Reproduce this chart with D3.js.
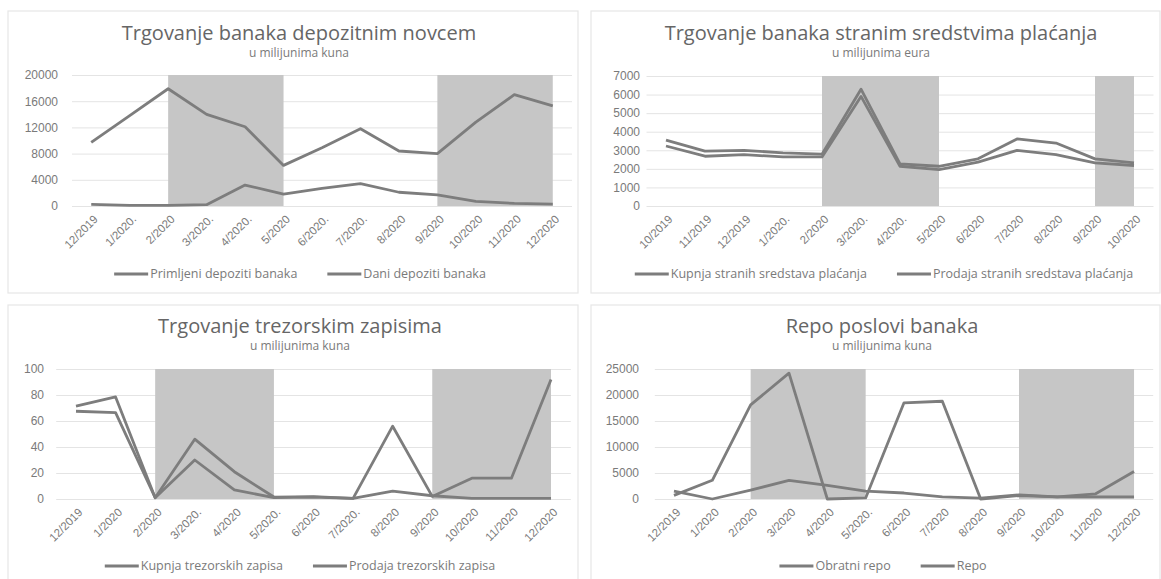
<!DOCTYPE html>
<html>
<head>
<meta charset="utf-8">
<script src="https://cdn.jsdelivr.net/npm/d3@7"></script>
<style>
  html, body { margin: 0; padding: 0; background: #ffffff; }
  svg { display: block; font-family: "Open Sans", "DejaVu Sans", sans-serif; }
</style>
</head>
<body>
<svg id="chart" width="1161" height="579"></svg>
<script>
// ---- Data ----------------------------------------------------------------
// Trgovanje banaka depozitnim novcem (u milijunima kuna)
const depoMonths = ["12/2019", "1/2020.", "2/2020", "3/2020.", "4/2020.", "5/2020", "6/2020.", "7/2020.", "8/2020", "9/2020", "10/2020", "11/2020", "12/2020"];
const depoPrimljeni = [9700, 13800, 17900, 14000, 12100, 6200, 8900, 11800, 8400, 8000, 12800, 17000, 15300];
const depoDani = [250, 100, 100, 200, 3200, 1800, 2700, 3400, 2100, 1700, 700, 400, 300];
const depoTicks = [0, 4000, 8000, 12000, 16000, 20000];
const depoShade = [[2, 5], [9, 12]];

// Trgovanje banaka stranim sredstvima plaćanja (u milijunima eura)
const fxMonths = ["10/2019", "11/2019", "12/2019", "1/2020.", "2/2020", "3/2020.", "4/2020.", "5/2020", "6/2020", "7/2020", "8/2020", "9/2020", "10/2020"];
const fxKupnja = [3550, 2950, 3000, 2860, 2790, 6290, 2270, 2140, 2540, 3610, 3390, 2540, 2320];
const fxProdaja = [3230, 2680, 2770, 2640, 2640, 5900, 2140, 1960, 2360, 3000, 2770, 2320, 2180];
const fxTicks = [0, 1000, 2000, 3000, 4000, 5000, 6000, 7000];
const fxShade = [[4, 7], [11, 12]];

// Trgovanje trezorskim zapisima (u milijunima kuna)
const tzMonths = ["12/2019", "1/2020", "2/2020", "3/2020.", "4/2020", "5/2020.", "6/2020", "7/2020.", "8/2020", "9/2020", "10/2020", "11/2020", "12/2020"];
const tzKupnja = [71.5, 78.5, 1, 46, 21, 1.5, 1.8, 0.5, 56, 2, 16, 16, 92];
const tzProdaja = [67.5, 66.5, 1, 30, 7, 1, 1.5, 0.5, 6, 2.5, 0.5, 0.5, 0.5];
const tzTicks = [0, 20, 40, 60, 80, 100];
const tzShade = [[2, 5], [9, 12]];

// Repo poslovi banaka (u milijunima kuna)
const repoMonths = ["12/2019", "1/2020", "2/2020", "3/2020", "4/2020", "5/2020.", "6/2020", "7/2020", "8/2020", "9/2020", "10/2020", "11/2020", "12/2020"];
const repoObratni = [700, 3600, 18100, 24200, 0, 200, 18500, 18800, 0, 650, 400, 1000, 5300];
const repoRepo = [1500, 0, 1700, 3600, 2600, 1500, 1150, 400, 150, 800, 400, 400, 400];
const repoTicks = [0, 5000, 10000, 15000, 20000, 25000];
const repoShade = [[2, 5], [9, 12]];

// ---- Styling -------------------------------------------------------------
const LINE = "#7d7d7d";
const SHADE = "#c6c6c6";
const GRID = "#e4e4e4";
const TEXT = "#7a7a7a";
const TITLE = "#666666";
const FRAME = "#e6e6e6";

const svg = d3.select("#chart");

function drawPanel(cfg) {
  const g = svg.append("g");

  // chart area frame
  g.append("rect")
    .attr("x", cfg.frame[0]).attr("y", cfg.frame[1])
    .attr("width", cfg.frame[2] - cfg.frame[0]).attr("height", cfg.frame[3] - cfg.frame[1])
    .attr("fill", "none").attr("stroke", FRAME).attr("stroke-width", 1.2);

  const x = d3.scalePoint().domain(cfg.months).range([cfg.plot.left, cfg.plot.right]).padding(0.5);
  const y = d3.scaleLinear().domain([0, d3.max(cfg.ticks)]).range([cfg.plot.bottom, cfg.plot.top]);

  // shaded periods
  g.selectAll("rect.shade").data(cfg.shade).join("rect")
    .attr("class", "shade")
    .attr("x", d => x(cfg.months[d[0]]))
    .attr("width", d => x(cfg.months[d[1]]) - x(cfg.months[d[0]]))
    .attr("y", y(d3.max(cfg.ticks)))
    .attr("height", y(0) - y(d3.max(cfg.ticks)))
    .attr("fill", SHADE);

  // horizontal gridlines + value labels
  const yAxis = d3.axisLeft(y).tickValues(cfg.ticks).tickSize(-(cfg.plot.right - cfg.plot.left)).tickPadding(12).tickFormat(d3.format("d"));
  const ya = g.append("g").attr("transform", `translate(${cfg.plot.left},0)`).call(yAxis);
  ya.select(".domain").remove();
  ya.selectAll(".tick line").attr("stroke", GRID).attr("stroke-width", 1);
  ya.selectAll(".tick text").attr("fill", TEXT).attr("font-size", 12).attr("x", cfg.labelRight - cfg.plot.left);
  ya.lower();

  // category labels
  const xAxis = d3.axisBottom(x).tickSize(0).tickPadding(0);
  const xa = g.append("g").attr("transform", `translate(0,${cfg.plot.bottom})`).call(xAxis);
  xa.select(".domain").remove();
  xa.selectAll(".tick text")
    .attr("fill", TEXT).attr("font-size", 11.5)
    .attr("text-anchor", "end")
    .attr("dy", "0.35em")
    .attr("transform", "translate(4,11) rotate(-45)")
    .attr("y", 0).attr("x", 0);

  // series lines
  const line = d3.line().x((d, i) => x(cfg.months[i])).y(d => y(d));
  g.selectAll("path.series").data(cfg.series).join("path")
    .attr("class", "series")
    .attr("d", d => line(d.values))
    .attr("fill", "none")
    .attr("stroke", LINE)
    .attr("stroke-width", 2.8)
    .attr("stroke-linejoin", "round");

  // titles
  g.append("text").attr("x", cfg.titleX).attr("y", cfg.titleY)
    .attr("text-anchor", "middle").attr("fill", TITLE)
    .attr("font-size", cfg.titleSize).text(cfg.title);
  g.append("text").attr("x", cfg.titleX).attr("y", cfg.subY)
    .attr("text-anchor", "middle").attr("fill", TEXT)
    .attr("font-size", 12).text(cfg.subtitle);

  // legend, centered under the plot
  const lg = g.append("g");
  let cursor = 0;
  const gap = 30;
  cfg.series.forEach((s, i) => {
    const item = lg.append("g").attr("transform", `translate(${cursor},0)`);
    item.append("line").attr("x1", 0).attr("x2", 34).attr("y1", 0).attr("y2", 0)
      .attr("stroke", LINE).attr("stroke-width", 2.8);
    const t = item.append("text").attr("x", 36).attr("y", 0).attr("dy", "0.35em")
      .attr("fill", TEXT).attr("font-size", 12.5).text(s.name);
    cursor += 36 + t.node().getComputedTextLength() + gap;
  });
  const total = cursor - gap;
  lg.attr("transform", `translate(${cfg.legendX - total / 2},${cfg.legendY})`);
}

drawPanel({
  frame: [8, 11, 578, 293],
  title: "Trgovanje banaka depozitnim novcem",
  subtitle: "u milijunima kuna",
  titleX: 299, titleY: 40, subY: 57, titleSize: 20,
  plot: { left: 72, right: 572, top: 75, bottom: 206 },
  labelRight: 58,
  months: depoMonths, ticks: depoTicks, shade: depoShade,
  series: [
    { name: "Primljeni depoziti banaka", values: depoPrimljeni },
    { name: "Dani depoziti banaka", values: depoDani }
  ],
  legendX: 300, legendY: 274
});

drawPanel({
  frame: [591, 11, 1160, 293],
  title: "Trgovanje banaka stranim sredstvima plaćanja",
  subtitle: "u milijunima eura",
  titleX: 881, titleY: 40, subY: 57, titleSize: 20,
  plot: { left: 646.5, right: 1153.5, top: 76, bottom: 206 },
  labelRight: 640,
  months: fxMonths, ticks: fxTicks, shade: fxShade,
  series: [
    { name: "Kupnja stranih sredstava plaćanja", values: fxKupnja },
    { name: "Prodaja stranih sredstava plaćanja", values: fxProdaja }
  ],
  legendX: 884, legendY: 274
});

drawPanel({
  frame: [8, 305, 578, 580],
  title: "Trgovanje trezorskim zapisima",
  subtitle: "u milijunima kuna",
  titleX: 300, titleY: 333, subY: 350, titleSize: 20,
  plot: { left: 56.2, right: 570.8, top: 369, bottom: 499 },
  labelRight: 44,
  months: tzMonths, ticks: tzTicks, shade: tzShade,
  series: [
    { name: "Kupnja trezorskih zapisa", values: tzKupnja },
    { name: "Prodaja trezorskih zapisa", values: tzProdaja }
  ],
  legendX: 300, legendY: 566
});

drawPanel({
  frame: [591, 305, 1160, 580],
  title: "Repo poslovi banaka",
  subtitle: "u milijunima kuna",
  titleX: 882, titleY: 333, subY: 350, titleSize: 20,
  plot: { left: 654.8, right: 1153.2, top: 369, bottom: 499 },
  labelRight: 639,
  months: repoMonths, ticks: repoTicks, shade: repoShade,
  series: [
    { name: "Obratni repo", values: repoObratni },
    { name: "Repo", values: repoRepo }
  ],
  legendX: 883, legendY: 566
});
</script>
</body>
</html>
